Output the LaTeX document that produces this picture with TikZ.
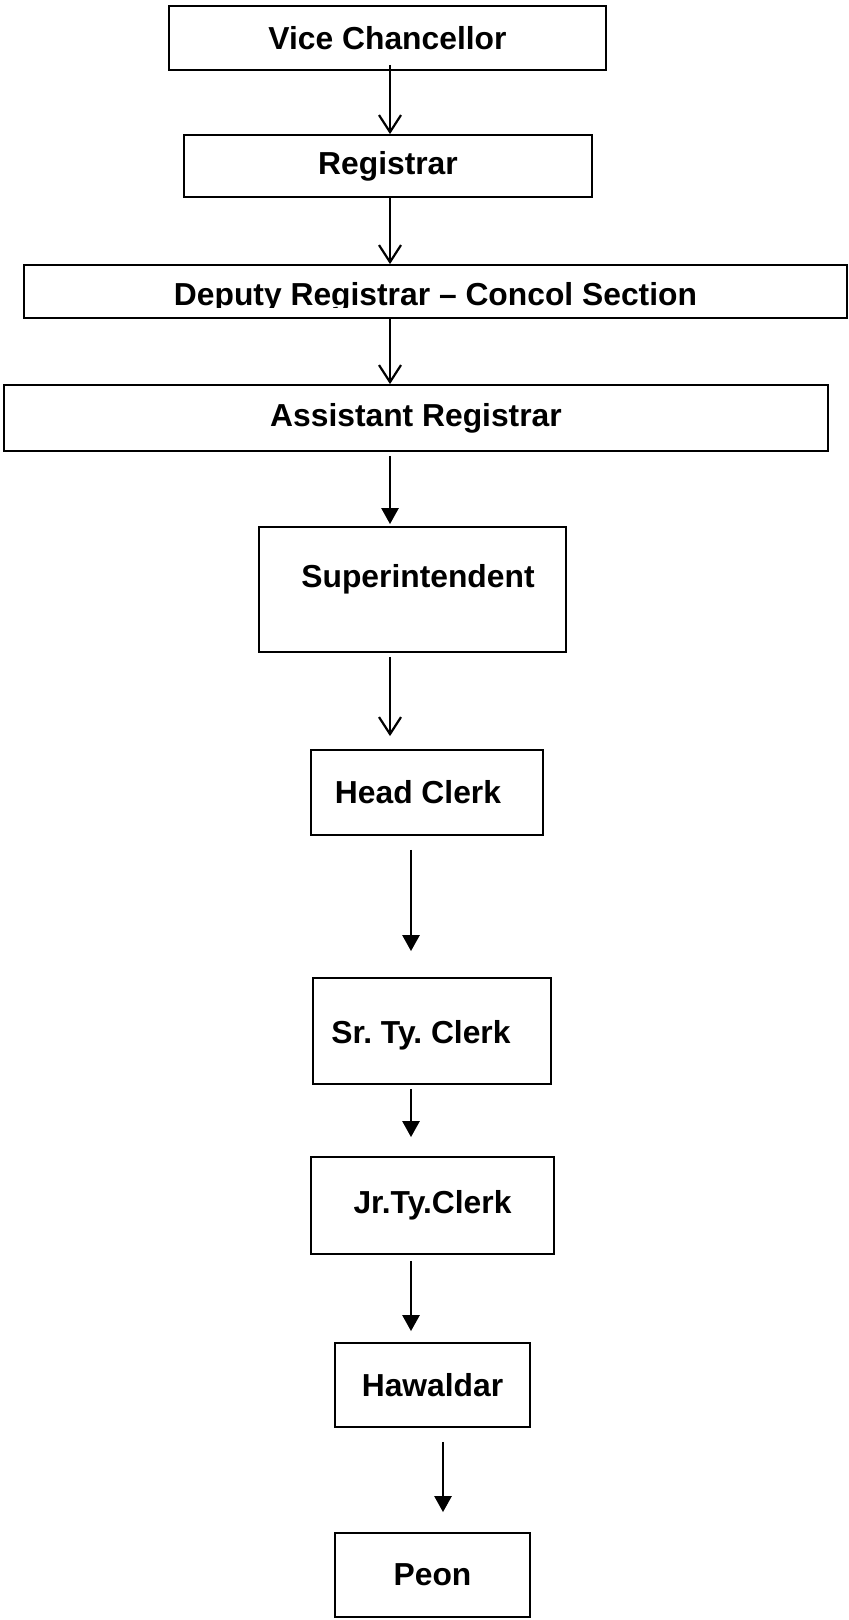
\documentclass[tikz,border=0pt]{standalone}
\usepackage{fontspec}
\setmainfont{Liberation Sans}
\usetikzlibrary{arrows.meta}
\frenchspacing
\tikzset{
	box/.style={draw, line width=.9pt, inner sep=0pt, font=\bfseries\fontsize{15.9}{19}\selectfont},
	lbl/.style={font=\bfseries\fontsize{15.9}{19}\selectfont},
	openarr/.style={-{Straight Barb[length=8.5pt, width=11pt, line width=1.1pt]}, line width=1.3pt},
	fullarr/.style={-{Triangle[length=8pt, width=8.5pt]}, line width=1.3pt}
}
\begin{document}
	\begin{tikzpicture}[x=.5pt, y=-.5pt]
		\useasboundingbox (0,0) rectangle (849,1620);
		% boxes, top to bottom
		\node[box, minimum width=218.5pt, minimum height=32pt] (vc) at (387.5,38) {Vice Chancellor};
		\node[box, minimum width=204pt, minimum height=31pt] (reg) at (388,166) {Registrar};
		\node[box, minimum width=411.5pt, minimum height=26.5pt,
			label={[lbl, name=drtxt, yshift=-3pt]center:Deputy Registrar -- Concol Section}] (dr) at (435.5,291.5) {};
		\fill[white] (drtxt.west |- 0,308) rectangle (drtxt.east |- 0,316);
		\node[box, minimum width=412pt, minimum height=33pt] (ar) at (416,418) {Assistant Registrar};
		\node[box, minimum width=153.5pt, minimum height=62.5pt,
			label={[lbl, xshift=2.75pt, yshift=5pt]center:Superintendent}] (sup) at (412.5,589.5) {};
		\node[box, minimum width=116pt, minimum height=42.5pt,
			label={[lbl, xshift=-4.5pt]center:Head Clerk}] (hc) at (427,792.5) {};
		\node[box, minimum width=119pt, minimum height=53pt,
			label={[lbl, xshift=-5.5pt, yshift=-2pt]center:Sr. Ty. Clerk}] (stc) at (432,1031) {};
		\node[box, minimum width=121.5pt, minimum height=48.5pt] (jtc) at (432.5,1205.5) {Jr.Ty.Clerk};
		\node[box, minimum width=97.5pt, minimum height=42pt] (haw) at (432.5,1385) {Hawaldar};
		\node[box, minimum width=97.5pt, minimum height=42pt] (peon) at (432.5,1575) {Peon};
		% arrow lines
		\coordinate (spineA) at (390,0);
		\coordinate (spineB) at (411,0);
		\coordinate (spineC) at (443,0);
		\draw[openarr, shorten <=-3pt] (vc.south -| spineA) -- (reg.north -| spineA);
		\draw[openarr] (reg.south -| spineA) -- (dr.north -| spineA);
		\draw[openarr] (dr.south -| spineA) -- (ar.north -| spineA);
		\draw[fullarr, shorten <=2pt, shorten >=1pt] (ar.south -| spineA) -- (sup.north -| spineA);
		\draw[openarr, shorten <=2pt, shorten >=6.5pt] (sup.south -| spineA) -- (hc.north -| spineA);
		\draw[fullarr, shorten <=7pt, shorten >=13pt] (hc.south -| spineB) -- (stc.north -| spineB);
		\draw[fullarr, shorten <=2pt, shorten >=9.5pt] (stc.south -| spineB) -- (jtc.north -| spineB);
		\draw[fullarr, shorten <=3pt, shorten >=5.5pt] (jtc.south -| spineB) -- (haw.north -| spineB);
		\draw[fullarr, shorten <=7pt, shorten >=10pt] (haw.south -| spineC) -- (peon.north -| spineC);
	\end{tikzpicture}
\end{document}
